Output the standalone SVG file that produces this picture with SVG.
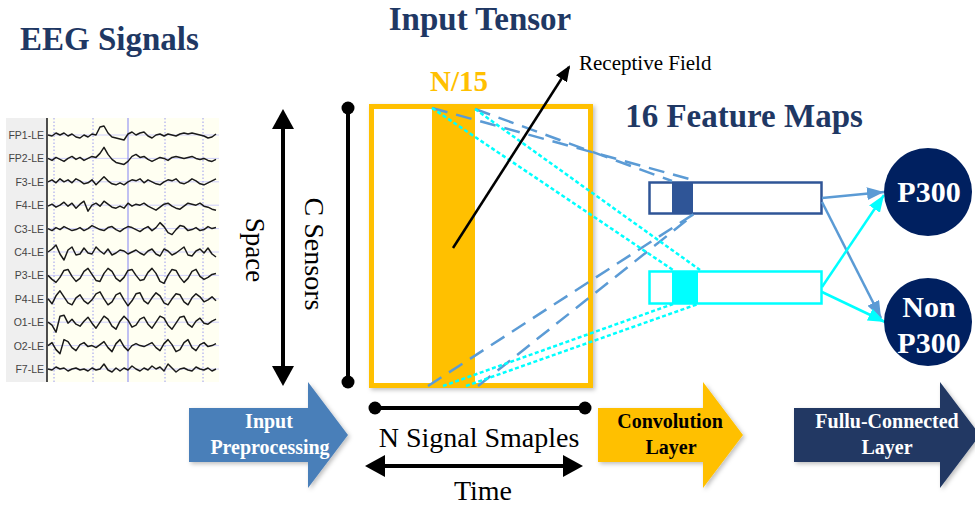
<svg xmlns="http://www.w3.org/2000/svg" width="975" height="508" viewBox="0 0 975 508">
<style>
.title{font-family:"Liberation Serif","Times New Roman",serif;font-weight:bold;font-size:33px;fill:#1f3864}
.serif{font-family:"Liberation Serif","Times New Roman",serif;fill:#000}
.lbl{font-family:"Liberation Sans",Arial,sans-serif;font-size:10.5px;fill:#444;text-anchor:end}
.wave{fill:none;stroke:#1a1a1a;stroke-width:1.5;stroke-linejoin:round}
.hgrid{stroke:#c4c4ff;stroke-width:0.8}
.vdot{stroke:#9a9aee;stroke-width:1;stroke-dasharray:1.5 2}
.blk{font-family:"Liberation Serif","Times New Roman",serif;font-weight:bold;font-size:20px;text-anchor:middle}
.circ{fill:#002060}
.ctext{font-family:"Liberation Serif","Times New Roman",serif;font-weight:bold;font-size:30px;fill:#fff;text-anchor:middle}
.bdash{fill:none;stroke:#5b9bd5;stroke-width:2.5;stroke-dasharray:16 9}
.cdot{fill:none;stroke:#00ffff;stroke-width:2.5;stroke-dasharray:4 2.5}
</style>
<defs>
<marker id="ahBlack" markerUnits="userSpaceOnUse" markerWidth="20" markerHeight="22" viewBox="0 0 20 22" refX="16" refY="11" orient="auto-start-reverse"><path d="M0,0 L20,11 L0,22 Z" fill="#000"/></marker>
<marker id="ahSmall" markerUnits="userSpaceOnUse" markerWidth="16" markerHeight="13" viewBox="0 0 16 13" refX="14" refY="6.5" orient="auto"><path d="M0,0 L16,6.5 L0,13 Z" fill="#000"/></marker>
<marker id="ahBlue" markerUnits="userSpaceOnUse" markerWidth="17" markerHeight="13" viewBox="0 0 17 13" refX="17" refY="6.5" orient="auto"><path d="M0,0 L17,6.5 L0,13 Z" fill="#5b9bd5"/></marker>
<marker id="ahCyan" markerUnits="userSpaceOnUse" markerWidth="17" markerHeight="13" viewBox="0 0 17 13" refX="17" refY="6.5" orient="auto"><path d="M0,0 L17,6.5 L0,13 Z" fill="#00ffff"/></marker>
<filter id="sh" x="-10%" y="-10%" width="130%" height="130%"><feDropShadow dx="2" dy="2" stdDeviation="2" flood-color="#000" flood-opacity="0.25"/></filter>
</defs>

<rect width="975" height="508" fill="#fff"/>

<text class="title" x="20" y="50">EEG Signals</text>
<text class="title" x="480" y="30" text-anchor="middle">Input Tensor</text>
<text class="title" x="744" y="127" text-anchor="middle">16 Feature Maps</text>

<g id="eeg-signals">
<rect x="6" y="118" width="41" height="264" fill="#efefef"/>
<rect x="48" y="118" width="171" height="264" fill="#fffff2"/>
<g>
<line class="hgrid" x1="48" y1="135" x2="219" y2="135"/>
<line class="hgrid" x1="48" y1="158.4" x2="219" y2="158.4"/>
<line class="hgrid" x1="48" y1="181.8" x2="219" y2="181.8"/>
<line class="hgrid" x1="48" y1="205.2" x2="219" y2="205.2"/>
<line class="hgrid" x1="48" y1="228.6" x2="219" y2="228.6"/>
<line class="hgrid" x1="48" y1="252" x2="219" y2="252"/>
<line class="hgrid" x1="48" y1="275.4" x2="219" y2="275.4"/>
<line class="hgrid" x1="48" y1="298.8" x2="219" y2="298.8"/>
<line class="hgrid" x1="48" y1="322.2" x2="219" y2="322.2"/>
<line class="hgrid" x1="48" y1="345.6" x2="219" y2="345.6"/>
<line class="hgrid" x1="48" y1="369" x2="219" y2="369"/>
</g>
<line class="vdot" x1="54" y1="118" x2="54" y2="382"/>
<line class="vdot" x1="93" y1="118" x2="93" y2="382"/>
<line class="vdot" x1="165" y1="118" x2="165" y2="382"/>
<line class="vdot" x1="203" y1="118" x2="203" y2="382"/>
<line x1="128" y1="118" x2="128" y2="382" stroke="#a0a0f2" stroke-width="1.3"/>
<line x1="47" y1="118" x2="47" y2="382" stroke="#222" stroke-width="1.6"/>
<text class="lbl" x="44" y="139">FP1-LE</text>
<text class="lbl" x="44" y="162.4">FP2-LE</text>
<text class="lbl" x="44" y="185.8">F3-LE</text>
<text class="lbl" x="44" y="209.2">F4-LE</text>
<text class="lbl" x="44" y="232.6">C3-LE</text>
<text class="lbl" x="44" y="256">C4-LE</text>
<text class="lbl" x="44" y="279.4">P3-LE</text>
<text class="lbl" x="44" y="302.8">P4-LE</text>
<text class="lbl" x="44" y="326.2">O1-LE</text>
<text class="lbl" x="44" y="349.6">O2-LE</text>
<text class="lbl" x="44" y="373">F7-LE</text>
<polyline class="wave" transform="translate(0,135)" points="48,0 52,1 56,-2 60,0 64,-2 68,1 72,-1 76,2 80,3 84,0 88,2 92,-1 96,0 100,-8 104,-9 108,-2 112,2 116,3 120,4 124,5 128,-1 132,-3 136,0 140,-2 144,-3 148,1 152,3 156,0 160,-1 164,1 168,-1 172,0 176,1 180,-1 184,-2 188,-1 192,-2 196,-1 200,0 204,1 208,3 212,2 216,-1"/>
<polyline class="wave" transform="translate(0,158.4)" points="48,0 52,2 56,-1 60,1 64,3 68,0 72,-2 76,1 80,-1 84,2 88,0 92,-2 96,-1 100,-5 104,-11 108,-4 112,1 116,4 120,5 124,6 128,3 132,-2 136,-4 140,-1 144,-2 148,1 152,3 156,1 160,-1 164,0 168,2 172,-1 176,-2 180,-1 184,0 188,-1 192,-2 196,0 200,1 204,0 208,2 212,3 216,1"/>
<polyline class="wave" transform="translate(0,181.8)" points="48,0 52,-2 56,1 60,-3 64,0 68,-2 72,1 76,-3 80,-1 84,2 88,1 92,-2 96,3 100,-1 104,-5 108,-1 112,2 116,3 120,1 124,3 128,0 132,-2 136,-1 140,-3 144,1 148,-2 152,0 156,2 160,3 164,0 168,-2 172,-1 176,-3 180,1 184,2 188,0 192,-3 196,-1 200,2 204,3 208,1 212,-1 216,-3"/>
<polyline class="wave" transform="translate(0,205.2)" points="48,1 52,-1 56,2 60,0 64,-3 68,1 72,-2 76,3 80,-1 84,-4 88,6 92,0 96,-2 100,1 104,-4 108,-1 112,2 116,3 120,1 124,3 128,-2 132,1 136,-1 140,0 144,-2 148,1 152,3 156,5 160,2 164,-1 168,-2 172,1 176,3 180,4 184,1 188,-2 192,-1 196,0 200,-2 204,1 208,2 212,4 216,5"/>
<polyline class="wave" transform="translate(0,228.6)" points="48,0 52,2 56,-1 60,1 64,-2 68,0 72,2 76,1 80,-1 84,2 88,0 92,-3 96,-1 100,1 104,2 108,-1 112,-2 116,1 120,3 124,0 128,-2 132,-1 136,1 140,3 144,0 148,-2 152,2 156,-1 160,-6 164,-2 168,4 172,6 176,1 180,-3 184,-2 188,2 192,1 196,-1 200,2 204,1 208,-2 212,0 216,-1"/>
<polyline class="wave" transform="translate(0,252)" points="48,0 52,-3 56,-7 60,2 64,8 68,-2 72,-5 76,3 80,2 84,-4 88,1 92,2 96,-5 100,-1 104,2 108,-3 112,3 116,1 120,-2 124,-1 128,2 132,0 136,-2 140,1 144,3 148,-1 152,-3 156,2 160,4 164,-3 168,-1 172,3 176,1 180,-2 184,-5 188,3 192,4 196,-1 200,-3 204,1 208,-4 212,2 216,5"/>
<polyline class="wave" transform="translate(0,275.4)" points="48,0 52,4 56,7 60,2 64,-5 68,-6 72,1 76,6 80,3 84,-4 88,-7 92,-1 96,5 100,6 104,-2 108,-7 112,-4 116,3 120,6 124,2 128,-5 132,-6 136,0 140,5 144,4 148,-3 152,-7 156,-2 160,6 164,8 168,0 172,-6 176,-5 180,2 184,7 188,3 192,-4 196,-6 200,1 204,4 208,2 212,-1 216,-2"/>
<polyline class="wave" transform="translate(0,298.8)" points="48,0 52,5 56,-3 60,-8 64,-2 68,4 72,6 76,-1 80,-4 84,2 88,5 92,1 96,-5 100,-7 104,0 108,6 112,3 116,-4 120,-6 124,1 128,7 132,2 136,-5 140,-6 144,2 148,5 152,-1 156,-6 160,-3 164,4 168,6 172,0 176,-5 180,-4 184,3 188,6 192,-1 196,-5 200,-2 204,3 208,1 212,-2 216,2"/>
<polyline class="wave" transform="translate(0,322.2)" points="48,0 52,3 56,10 60,-6 64,-7 68,1 72,-3 76,2 80,4 84,-1 88,-5 92,1 96,6 100,0 104,-6 108,-3 112,4 116,7 120,-1 124,-6 128,-2 132,5 136,3 140,-3 144,-5 148,2 152,6 156,0 160,-6 164,-4 168,3 172,7 176,1 180,-5 184,-6 188,2 192,5 196,-1 200,-4 204,1 208,2 212,-1 216,-3"/>
<polyline class="wave" transform="translate(0,345.6)" points="48,0 52,-3 56,4 60,8 64,-6 68,-4 72,2 76,5 80,-1 84,-3 88,1 92,0 96,2 100,-1 104,-4 108,2 112,6 116,-2 120,-6 124,1 128,5 132,0 136,-2 140,0 144,1 148,-1 152,-3 156,2 160,5 164,-2 168,-6 172,-1 176,6 180,4 184,-3 188,-6 192,2 196,5 200,-1 204,-3 208,1 212,0 216,-2"/>
<polyline class="wave" transform="translate(0,369)" points="48,0 52,1 56,-2 60,0 64,-1 68,2 72,0 76,-1 80,1 84,0 88,2 92,-1 96,1 100,0 104,-5 108,1 112,3 116,-1 120,2 124,-1 128,1 132,-3 136,0 140,2 144,-1 148,1 152,-3 156,0 160,-2 164,2 168,-5 172,-1 176,3 180,0 184,-1 188,1 192,2 196,-2 200,0 204,1 208,-1 212,2 216,0"/>
</g>

<g id="space-axis">
<line x1="283" y1="113" x2="283" y2="382" stroke="#000" stroke-width="4" marker-start="url(#ahBlack)" marker-end="url(#ahBlack)"/>
<text class="serif" font-size="27" text-anchor="middle" transform="translate(246,250) rotate(90)">Space</text>
</g>

<g id="c-sensors">
<line x1="348" y1="108" x2="348" y2="382" stroke="#000" stroke-width="4"/>
<circle cx="348" cy="108" r="6.5" fill="#000"/>
<circle cx="348" cy="382" r="6.5" fill="#000"/>
<text class="serif" font-size="28" text-anchor="middle" transform="translate(305,254) rotate(90)">C Sensors</text>
</g>

<g id="input-tensor">
<rect x="371.5" y="106.5" width="219" height="279" fill="#fff" stroke="#ffc000" stroke-width="5" filter="url(#sh)"/>
<rect x="432" y="109" width="43" height="274" fill="#ffc000"/>
<text x="459" y="91" text-anchor="middle" font-family="Liberation Serif, Times New Roman, serif" font-weight="bold" font-size="29" fill="#ffc000">N/15</text>
</g>

<g id="n-samples">
<line x1="375" y1="408" x2="585" y2="408" stroke="#000" stroke-width="4"/>
<circle cx="375" cy="408" r="6.5" fill="#000"/>
<circle cx="585" cy="408" r="6.5" fill="#000"/>
<text class="serif" x="479" y="447" font-size="28" text-anchor="middle">N Signal Smaples</text>
</g>

<g id="time-axis">
<line x1="369" y1="466" x2="579" y2="466" stroke="#000" stroke-width="4" marker-start="url(#ahBlack)" marker-end="url(#ahBlack)"/>
<text class="serif" x="483" y="500" font-size="28" text-anchor="middle">Time</text>
</g>

<g id="feature-map-1">
<rect x="649.5" y="182.5" width="172" height="31" fill="#fff" stroke="#2f5597" stroke-width="2.5"/>
<rect x="672" y="182.5" width="21" height="31" fill="#2f5597"/>
</g>

<g id="feature-map-2">
<rect x="649.5" y="271.5" width="172" height="32" fill="#fff" stroke="#00ffff" stroke-width="2.5"/>
<rect x="672" y="271.5" width="26" height="32" fill="#00ffff"/>
</g>

<g id="connectors">
<line class="bdash" x1="432" y1="108" x2="693" y2="180"/>
<line class="bdash" x1="475" y1="109" x2="672" y2="181"/>
<line class="bdash" x1="428" y1="386" x2="697" y2="212"/>
<line class="bdash" x1="478" y1="386" x2="687" y2="220"/>
<line class="cdot" x1="432" y1="108" x2="673" y2="270"/>
<line class="cdot" x1="475" y1="109" x2="700" y2="270"/>
<line class="cdot" x1="443" y1="386" x2="673" y2="304"/>
<line class="cdot" x1="466" y1="386" x2="698" y2="304"/>
<line x1="453" y1="248" x2="569" y2="67" stroke="#000" stroke-width="2.5" marker-end="url(#ahSmall)"/>
<line x1="822" y1="198" x2="884" y2="192" stroke="#5b9bd5" stroke-width="2.5" marker-end="url(#ahBlue)"/>
<line x1="822" y1="202" x2="881" y2="318" stroke="#5b9bd5" stroke-width="2.5" marker-end="url(#ahBlue)"/>
<line x1="822" y1="287" x2="884" y2="195" stroke="#00ffff" stroke-width="2.5" marker-end="url(#ahCyan)"/>
<line x1="822" y1="292" x2="885" y2="322" stroke="#00ffff" stroke-width="2.5" marker-end="url(#ahCyan)"/>
</g>

<text class="serif" x="579" y="70" font-size="21">Receptive Field</text>

<g id="p300">
<circle class="circ" cx="928" cy="192" r="44"/>
<text class="ctext" x="929" y="202">P300</text>
</g>

<g id="non-p300">
<circle class="circ" cx="928" cy="322" r="44"/>
<text class="ctext" x="929" y="317">Non</text>
<text class="ctext" x="929" y="353">P300</text>
</g>

<g id="input-preprocessing">
<path d="M189,408 H308 V382 L348,435 L308,488 V462 H189 Z" fill="#4a7fb9" filter="url(#sh)"/>
<text class="blk" x="269" y="428" fill="#fff">Input</text>
<text class="blk" x="270" y="454" fill="#fff">Preprocessing</text>
</g>

<g id="convolution-layer">
<path d="M598,408 H703 V382 L743,435 L703,488 V462 H598 Z" fill="#ffc000" filter="url(#sh)"/>
<text class="blk" x="670" y="428" fill="#000">Convolution</text>
<text class="blk" x="671" y="454" fill="#000">Layer</text>
</g>

<g id="fc-layer">
<path d="M794,408 H940 V382 L980,435 L940,488 V462 H794 Z" fill="#203864" filter="url(#sh)"/>
<text class="blk" x="887" y="428" fill="#fff">Fullu-Connected</text>
<text class="blk" x="887" y="454" fill="#fff">Layer</text>
</g>
</svg>
